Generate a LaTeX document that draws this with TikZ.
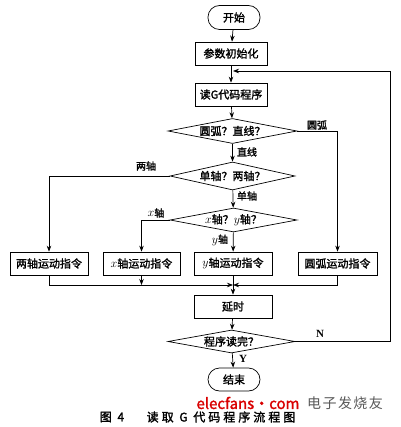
\documentclass[tikz,border=0pt]{standalone}
\usepackage{fontspec}
\setmainfont{Noto Sans CJK SC}[AutoFakeBold=1.6]
\newfontfamily\serifb{Liberation Serif}
\newfontfamily\capfont{Noto Sans CJK SC}[LetterSpace=25,AutoFakeBold=1.6]
\newfontfamily\wmfont{Noto Sans CJK SC}[LetterSpace=10]
\newcommand{\ix}{{\fontsize{13}{12}\selectfont$x$}}
\newcommand{\iy}{{\fontsize{13}{12}\selectfont$y$}}
\usetikzlibrary{shapes.geometric,arrows.meta}
\begin{document}
\begin{tikzpicture}[x=1pt,y=-1pt,
  font=\fontsize{11}{12}\selectfont\bfseries,
  line width=0.7pt,
  box/.style={draw,rectangle,minimum width=76pt,minimum height=23pt,inner sep=1pt},
  term/.style={draw,rectangle,rounded corners=11.5pt,minimum width=52pt,minimum height=24pt,inner sep=1pt},
  dia/.style={draw,diamond,aspect=5.2,inner sep=0pt,minimum width=127pt,minimum height=24pt},
  arr/.style={-{Stealth[length=6pt,width=4.5pt]}},
  lab/.style={inner sep=0pt,font=\fontsize{10}{11}\selectfont\bfseries}]
\useasboundingbox (0,0) rectangle (400,427);
\fill[white] (0,0) rectangle (400,427);

\node[term] (start) at (234,17.5) {开始};
\node[box,minimum width=72pt] (init) at (231,53.5) {参数初始化};
\node[box,minimum width=72pt] (read) at (231,94.5) {读G代码程序};
\node[dia,minimum width=129pt,minimum height=25pt] (d1) at (232.5,131) {圆弧？直线？};
\node[dia,minimum width=125pt,minimum height=28pt] (d2) at (232.5,176) {单轴？两轴？};
\node[dia,minimum width=127pt,minimum height=24pt] (d3) at (233.5,220) {\ix 轴？\iy 轴？};
\node[box,minimum width=78pt] (b1) at (49,263.5) {两轴运动指令};
\node[box,minimum width=77pt] (b2) at (141.5,263.5) {\ix 轴运动指令};
\node[box,minimum width=78pt] (b3) at (233,263.5) {\iy 轴运动指令};
\node[box,minimum width=79pt] (b4) at (337.5,263.5) {圆弧运动指令};
\node[box,minimum width=78pt] (delay) at (233,306.5) {延时};
\node[dia,minimum width=127pt,minimum height=23pt] (d4) at (231.5,341.5) {程序读完？};
\node[term,minimum height=23pt] (stop) at (234,379.5) {结束};

\coordinate (merge) at (233,285);
\coordinate (mx) at (141.5,285);
\coordinate (loopin) at (233,71);
\coordinate (rtop) at (390,71);
\coordinate (rbot) at (390,341.5);

\draw[arr] (start) -- (init);
\draw[arr] (init) -- (read);
\draw[arr] (read) -- (d1);
\draw[arr] (d1) -- (d2);
\draw[arr] (d2) -- (d3);
\draw[arr] (d1.east) -| (b4.north);
\draw[arr] (d2.west) -| (b1.north);
\draw[arr] (d3.west) -| (b2.north);
\draw[arr] (d3) -- (b3);
\draw[arr] (b1.south) |- (merge);
\draw[arr] (b4.south) |- (merge);
\draw[arr] (b2.south) -- (mx);
\draw[arr] (b3.south) -- (delay.north);
\draw[arr] (delay) -- (d4);
\draw[arr] (d4) -- (stop);
\draw[arr] (d4.east) -- (rbot) -- (rtop) -- (loopin);

\node[lab] (l1) at (317,125) {圆弧};
\node[lab] (l2) at (247,152) {直线};
\node[lab] (l3) at (146,166) {两轴};
\node[lab] (l4) at (247,196) {单轴};
\node[lab] (l5) at (156,213) {\ix 轴};
\node[lab] (l6) at (220,240) {\iy 轴};
\node[lab,font=\serifb\fontsize{11}{12}\selectfont\bfseries] (l7) at (320,334) {N};
\node[lab,font=\serifb\fontsize{11}{12}\selectfont\bfseries] (l8) at (243,359) {Y};

\node[inner sep=0pt,font=\capfont\fontsize{12}{13}\selectfont\bfseries] (cap1) at (112,417) {图 4};
\node[inner sep=0pt,font=\capfont\fontsize{12}{13}\selectfont\bfseries] (cap2) at (221,417) {读取 G 代码程序流程图};
\node[inner sep=0pt,text=red!85!black,font=\fontsize{15}{17}\selectfont\bfseries] (wm1) at (248,403) {elecfans·com};
\node[inner sep=0pt,text=black!65,font=\wmfont\fontsize{14}{15}\selectfont] (wm2) at (345,403) {电子发烧友};
\end{tikzpicture}
\end{document}
